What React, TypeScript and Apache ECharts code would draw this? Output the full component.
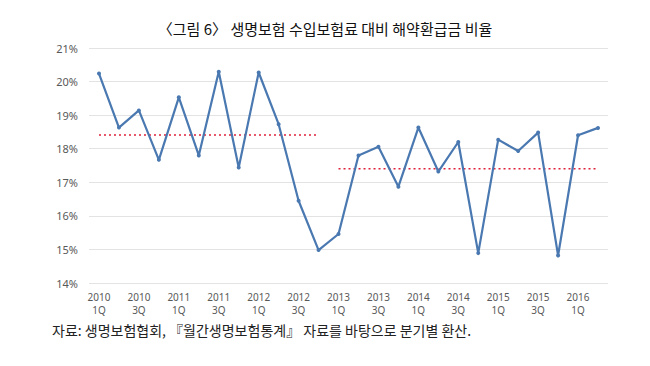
import React, { useEffect, useRef } from "react";
import * as echarts from "echarts";

const categories = [
  "2010\n1Q", "2010\n2Q", "2010\n3Q", "2010\n4Q",
  "2011\n1Q", "2011\n2Q", "2011\n3Q", "2011\n4Q",
  "2012\n1Q", "2012\n2Q", "2012\n3Q", "2012\n4Q",
  "2013\n1Q", "2013\n2Q", "2013\n3Q", "2013\n4Q",
  "2014\n1Q", "2014\n2Q", "2014\n3Q", "2014\n4Q",
  "2015\n1Q", "2015\n2Q", "2015\n3Q", "2015\n4Q",
  "2016\n1Q", "2016\n2Q",
];

const ratio = [
  20.24, 18.63, 19.14, 17.67,
  19.53, 17.8, 20.29, 17.44,
  20.27, 18.73, 16.45, 14.98,
  15.46, 17.8, 18.06, 16.87,
  18.63, 17.32, 18.2, 14.89,
  18.27, 17.93, 18.48, 14.82,
  18.4, 18.62,
];

// period averages (dotted red lines)
const avgEarly = [
  18.41, 18.41, 18.41, 18.41, 18.41, 18.41, 18.41, 18.41, 18.41, 18.41, 18.41, 18.41,
  null, null, null, null, null, null, null, null, null, null, null, null, null, null,
];
const avgLate = [
  null, null, null, null, null, null, null, null, null, null, null, null,
  17.4, 17.4, 17.4, 17.4, 17.4, 17.4, 17.4, 17.4, 17.4, 17.4, 17.4, 17.4, 17.4, 17.4,
];

const titleText = "〈그림 6〉 생명보험 수입보험료 대비 해약환급금 비율";
const sourceText = "자료: 생명보험협회, 『월간생명보험통계』 자료를 바탕으로 분기별 환산.";

export default function App() {
  const ref = useRef<HTMLDivElement>(null);
  useEffect(() => {
    if (!ref.current) return;
    const chart = echarts.init(ref.current, null, { renderer: "svg" });
    chart.setOption({
      animation: false,
      backgroundColor: "#ffffff",
      title: [
        {
          text: titleText,
          left: "center",
          top: 16,
          textStyle: {
            fontFamily: "Noto Sans CJK KR",
            fontSize: 15,
            fontWeight: "normal",
            color: "#111111",
          },
        },
        {
          text: sourceText,
          left: 47,
          top: 318,
          textStyle: {
            fontFamily: "Noto Sans CJK KR",
            fontSize: 14,
            fontWeight: "normal",
            color: "#222222",
          },
        },
      ],
      grid: { left: 89, right: 42, top: 48, bottom: 83, containLabel: false },
      xAxis: {
        type: "category",
        data: categories,
        boundaryGap: true,
        axisLine: { show: false },
        axisTick: { show: false },
        axisLabel: {
          interval: 1,
          color: "#595959",
          fontFamily: "Noto Sans",
          fontSize: 10,
          lineHeight: 13,
          margin: 7,
        },
      },
      yAxis: {
        type: "value",
        min: 14,
        max: 21,
        interval: 1,
        axisLine: { show: false },
        axisTick: { show: false },
        splitLine: { lineStyle: { color: "#e3e3e3", width: 1 } },
        axisLabel: {
          formatter: "{value}%",
          color: "#595959",
          fontFamily: "Noto Sans",
          fontSize: 11,
          margin: 11,
        },
      },
      series: [
        {
          type: "line",
          data: ratio,
          symbol: "circle",
          symbolSize: 4,
          lineStyle: { color: "#4a78b0", width: 2.2 },
          itemStyle: { color: "#4a78b0" },
          z: 3,
        },
        {
          type: "line",
          data: avgEarly,
          symbol: "none",
          lineStyle: { color: "#e0203a", width: 1.5, type: [2, 3] },
          z: 2,
        },
        {
          type: "line",
          data: avgLate,
          symbol: "none",
          lineStyle: { color: "#e0203a", width: 1.5, type: [2, 3] },
          z: 2,
        },
      ],
    });
    return () => chart.dispose();
  }, []);
  return (
    <div
      ref={ref}
      style={{ position: "fixed", left: 0, top: 0, width: 650, height: 366 }}
    />
  );
}
